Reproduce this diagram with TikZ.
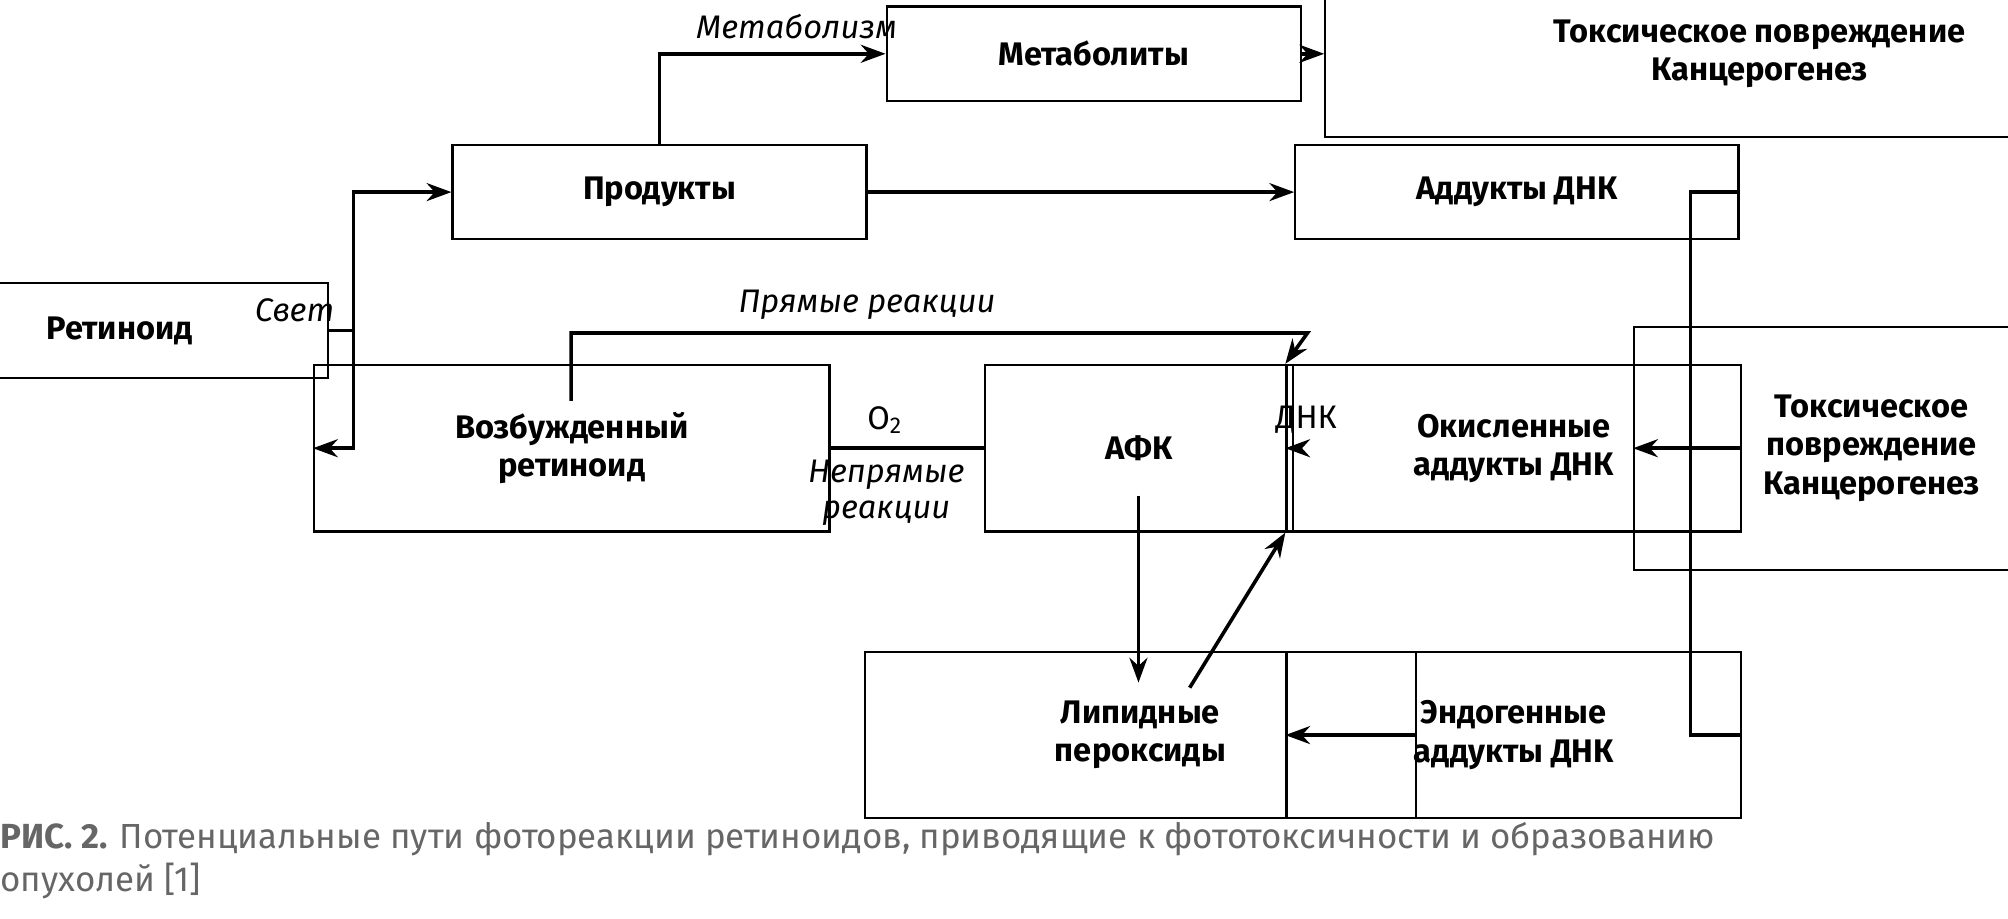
\documentclass[tikz,border=0pt]{standalone}
\usepackage{fontspec}
\setmainfont{Fira Sans}
\usetikzlibrary{arrows.meta}
\begin{document}
\begin{tikzpicture}[x=0.02cm,y=-0.02cm,
  box/.style={draw,line width=1pt,inner sep=0pt,align=center,font=\fontsize{14.5}{17}\selectfont\bfseries},
  lab/.style={inner sep=0pt,font=\fontsize{14.5}{16}\selectfont\itshape},
  ln/.style={line width=1.6pt},
  ar/.style={ln,-{Stealth[length=11pt,width=8pt]}}]
\useasboundingbox (0,0) rectangle (1568,717);
\newcommand\bx[6]{\node[box,minimum width=#4-#2,minimum height=#5-#3] (#1) at ({(#2+#4)/2},{(#3+#5)/2}) {#6};}
\bx{ret}{1}{237}{186}{279}{Ретиноид}
\bx{prod}{423}{129}{607}{171}{Продукты}
\bx{met}{762}{21}{946}{63}{Метаболиты}
\bx{tox1}{1181}{5}{1567}{79}{Токсическое повреждение\\Канцерогенез}
\bx{add}{1086}{129}{1283}{171}{Аддукты ДНК}
\bx{exc}{332}{313}{561}{387}{Возбужденный\\ретиноид}
\bx{afk}{821}{313}{958}{387}{АФК}
\bx{oks}{1081}{313}{1283}{387}{Окисленные\\аддукты ДНК}
\bx{tox2}{1356}{296}{1567}{404}{Токсическое\\повреждение\\Канцерогенез}
\bx{lip}{768}{537}{1013}{611}{Липидные\\пероксиды}
\bx{endo}{1081}{537}{1283}{611}{Эндогенные\\аддукты ДНК}
\coordinate (j) at (276,258);
\draw[ln] (ret.east) -- (j);
\draw[ar] (j) |- (prod.west);
\draw[ar] (j) |- (exc.west);
\node[lab] at (230,242) {Свет};
\draw[ar] (prod.north) |- (met.west);
\node[lab] at (622,21) {Метаболизм};
\draw[ar] (met.east) -- (tox1.west|-met.east);
\draw[ar] (prod.east) -- (add.west|-prod.east);
\coordinate (r) at (1320,150);
\draw[ln] (add.east) -- (r) -- (1320,574) -- (endo.east);
\draw[ar] (oks.east) -- (tox2.west|-oks.east);
\coordinate (d1) at (446,260); \coordinate (d2) at (1021,260);
\draw[ar] (446,313) -- (d1) -- (d2) -- (oks.north west);
\node[lab] at (677,238) {Прямые реакции};
\draw[ln] (exc.east) -- (afk.west);
\node[inner sep=0pt,font=\fontsize{14.5}{16}\selectfont] at (691,328) {O\textsubscript{2}};
\node[lab,align=center] at (692,385) {Непрямые\\реакции};
\draw[ar] (afk.east) -- (oks.west);
\node[inner sep=0pt,font=\fontsize{14.5}{16}\selectfont] at (1020,328) {ДНК};
\draw[ar] (889,387) -- (889,533);
\draw[ar] (929,537) -- (oks.south west);
\draw[ar] (lip.east|-endo.west) -- (endo.west);
\node[anchor=west,inner sep=0pt,align=left,text=black!60,font=\fontsize{15.5}{19}\selectfont\addfontfeature{}] at (0,672) {{\bfseries РИС. 2.} Потенциальные пути фотореакции ретиноидов, приводящие к фототоксичности и образованию\\опухолей [1]};
\end{tikzpicture}
\end{document}
